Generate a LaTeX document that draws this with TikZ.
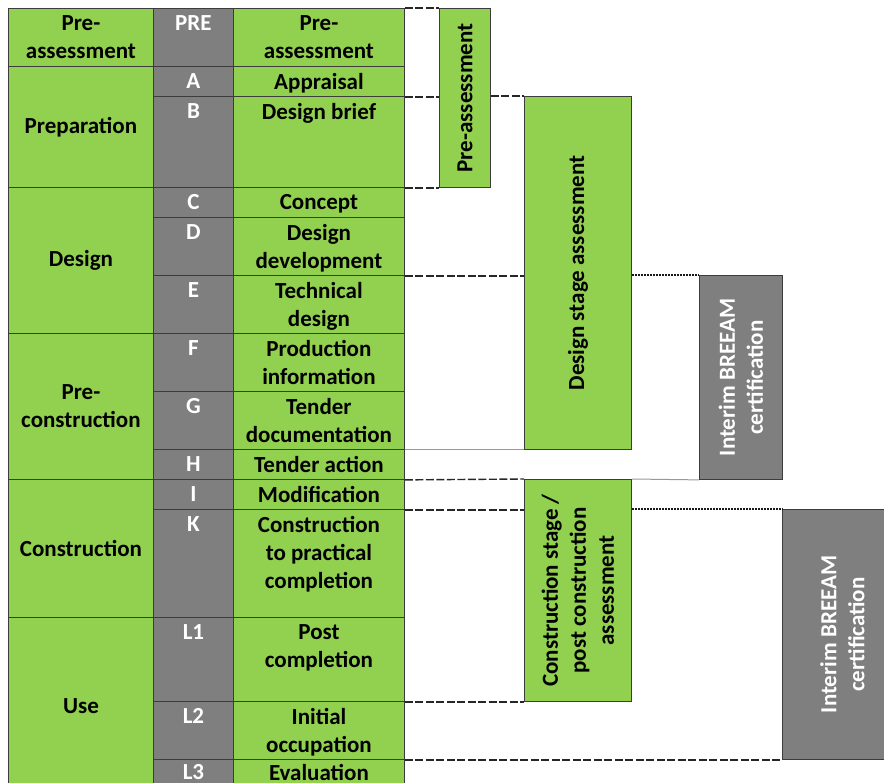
\documentclass[tikz,border=0pt]{standalone}
\usepackage{fontspec}
\setmainfont{Carlito}
\definecolor{xlgreen}{HTML}{92D050}
\definecolor{xlgrey}{HTML}{7F7F7F}
\definecolor{edgec}{HTML}{3C3C3C}
\tikzset{
  txt/.style={font=\fontsize{23}{28}\selectfont\bfseries, align=center, inner sep=0pt},
  cellg/.style={txt, draw=edgec, line width=0.9pt, fill=xlgreen, anchor=north west},
  cellk/.style={txt, draw=edgec, line width=0.9pt, fill=xlgrey, anchor=north west},
  toptxt/.style={txt, anchor=north, yshift=-7pt},
  wtop/.style={toptxt, text=white},
  vtxt/.style={txt, rotate=90},
  dashline/.style={line width=1.4pt, draw=black!85, dash pattern=on 8pt off 2.5pt},
  dotline/.style={line width=1.5pt, draw=black!90, dash pattern=on 2pt off 1pt},
  greyline/.style={line width=1pt, draw=black!40},
}
\newcommand{\tcell}[7]{\node[#6, minimum width={(#4-#2)*1pt}, minimum height={(#5-#3)*1pt}] (#1) at (#2,-#3) {#7};}
\begin{document}
\begin{tikzpicture}[x=1pt,y=1pt]
\useasboundingbox (0,0) rectangle (884,-783);
\clip (0,0) rectangle (884,-783);
% column 1
\tcell{g1}{8}{8}{153}{66}{cellg}{Pre-\\assessment}
\tcell{g2}{8}{66}{153}{187}{cellg}{Preparation}
\tcell{g3}{8}{187}{153}{333}{cellg}{Design}
\tcell{g4}{8}{333}{153}{479}{cellg}{Pre-\\construction}
\tcell{g5}{8}{479}{153}{617}{cellg}{Construction}
\tcell{g6}{8}{617}{153}{795}{cellg}{Use}
% column 2
\tcell{c2pre}{153}{8}{233}{66}{cellk}{}
\tcell{c2a}{153}{66}{233}{96}{cellk}{}
\tcell{c2b}{153}{96}{233}{187}{cellk}{}
\tcell{c2c}{153}{187}{233}{217}{cellk}{}
\tcell{c2d}{153}{217}{233}{275}{cellk}{}
\tcell{c2e}{153}{275}{233}{333}{cellk}{}
\tcell{c2f}{153}{333}{233}{391}{cellk}{}
\tcell{c2g}{153}{391}{233}{449}{cellk}{}
\tcell{c2h}{153}{449}{233}{479}{cellk}{}
\tcell{c2i}{153}{479}{233}{509}{cellk}{}
\tcell{c2k}{153}{509}{233}{617}{cellk}{}
\tcell{c2l1}{153}{617}{233}{701}{cellk}{}
\tcell{c2l2}{153}{701}{233}{759}{cellk}{}
\tcell{c2l3}{153}{759}{233}{795}{cellk}{}
% column 3
\tcell{c3pre}{233}{8}{404}{66}{cellg}{}
\tcell{c3a}{233}{66}{404}{96}{cellg}{}
\tcell{c3b}{233}{96}{404}{187}{cellg}{}
\tcell{c3c}{233}{187}{404}{217}{cellg}{}
\tcell{c3d}{233}{217}{404}{275}{cellg}{}
\tcell{c3e}{233}{275}{404}{333}{cellg}{}
\tcell{c3f}{233}{333}{404}{391}{cellg}{}
\tcell{c3g}{233}{391}{404}{449}{cellg}{}
\tcell{c3h}{233}{449}{404}{479}{cellg}{}
\tcell{c3i}{233}{479}{404}{509}{cellg}{}
\tcell{c3k}{233}{509}{404}{617}{cellg}{}
\tcell{c3l1}{233}{617}{404}{701}{cellg}{}
\tcell{c3l2}{233}{701}{404}{759}{cellg}{}
\tcell{c3l3}{233}{759}{404}{795}{cellg}{}
% column 2 labels
\node[wtop] (t2pre) at (c2pre.north) {PRE};
\node[wtop] (t2a) at (c2a.north) {A};
\node[wtop] (t2b) at (c2b.north) {B};
\node[wtop] (t2c) at (c2c.north) {C};
\node[wtop] (t2d) at (c2d.north) {D};
\node[wtop] (t2e) at (c2e.north) {E};
\node[wtop] (t2f) at (c2f.north) {F};
\node[wtop] (t2g) at (c2g.north) {G};
\node[wtop] (t2h) at (c2h.north) {H};
\node[wtop] (t2i) at (c2i.north) {I};
\node[wtop] (t2k) at (c2k.north) {K};
\node[wtop] (t2l1) at (c2l1.north) {L1};
\node[wtop] (t2l2) at (c2l2.north) {L2};
\node[wtop, yshift=2pt] (t2l3) at (c2l3.north) {L3};
% column 3 labels
\node[toptxt] (t3pre) at (c3pre.north) {Pre-\\assessment};
\node[toptxt] (t3a) at (c3a.north) {Appraisal};
\node[toptxt] (t3b) at (c3b.north) {Design brief};
\node[toptxt] (t3c) at (c3c.north) {Concept};
\node[toptxt] (t3d) at (c3d.north) {Design\\development};
\node[toptxt] (t3e) at (c3e.north) {Technical\\design};
\node[toptxt] (t3f) at (c3f.north) {Production\\information};
\node[toptxt] (t3g) at (c3g.north) {Tender\\documentation};
\node[toptxt] (t3h) at (c3h.north) {Tender action};
\node[toptxt] (t3i) at (c3i.north) {Modification};
\node[toptxt] (t3k) at (c3k.north) {Construction\\to practical\\completion};
\node[toptxt] (t3l1) at (c3l1.north) {Post\\completion};
\node[toptxt] (t3l2) at (c3l2.north) {Initial\\occupation};
\node[toptxt, yshift=2pt] (t3l3) at (c3l3.north) {Evaluation};
% right-hand boxes
\tcell{pabox}{439}{8}{490}{187}{cellg}{}
\tcell{dsbox}{524}{96}{631}{449}{cellg}{}
\tcell{ib1}{699}{275}{782}{479}{cellk}{}
\tcell{csbox}{524}{479}{631}{701}{cellg}{}
\tcell{ib2}{782}{509}{902}{759}{cellk}{}
\node[vtxt] (pat) at (pabox.center) {Pre-assessment};
\node[vtxt] (dst) at (dsbox.center) {Design stage assessment};
\node[vtxt, text=white] (ib1t) at (ib1.center) {Interim BREEAM\\certification};
\node[vtxt] (cst) at (csbox.center) {Construction stage /\\post construction\\assessment};
\node[vtxt, text=white] (ib2t) at (ib2.center) {Interim BREEAM\\certification};
% connectors
\draw[dashline] (c3pre.north east) -- (pabox.north west);
\draw[dashline] (c3a.south east) -- (pabox.west |- c3a.south east);
\draw[dashline] (c3b.south east) -- (pabox.south west);
\draw[dashline] (pabox.east |- dsbox.north) -- (dsbox.north west);
\draw[dashline] (c3d.south east) -- (dsbox.west |- c3d.south east);
\draw[dotline] (dsbox.east |- ib1.north) -- (ib1.north west);
\draw[greyline] (c3g.south east) -- (dsbox.south west);
\draw[dashline] (c3h.south east) -- (csbox.north west);
\draw[greyline] (csbox.north east) -- (ib1.south west);
\draw[dashline] (c3i.south east) -- (csbox.west |- c3i.south east);
\draw[dotline] (csbox.east |- ib2.north) -- (ib2.north west);
\draw[dashline] (c3l1.south east) -- (csbox.south west);
\draw[dashline] (c3l2.south east) -- (ib2.south west);
\end{tikzpicture}
\end{document}
